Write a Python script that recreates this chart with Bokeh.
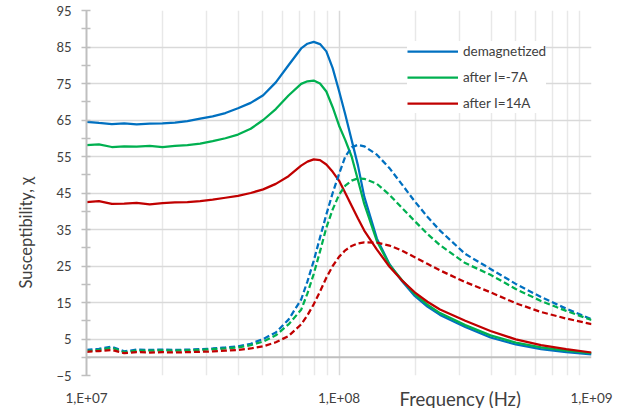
import math
from bokeh.plotting import figure
from bokeh.models import (FixedTicker, Span, Title, Legend, LegendItem, ColumnDataSource)
from bokeh.embed import file_html
from bokeh.resources import INLINE

# Frequency in MHz
freq_mhz = [10, 11.2, 12.6, 14.1, 15.8, 17.8, 20.0, 22.4, 25.1, 28.2,
            31.6, 35.5, 39.8, 44.7, 50.1, 56.2, 63.1, 70.8, 75.0, 79.4,
            84.1, 89.1, 94.4, 100, 105.9, 112.2, 118.9, 125.9, 141.3, 158.5,
            177.8, 199.5, 223.9, 251.2, 316.2, 398.1, 501.2, 631.0, 794.3, 1000]

# Real part (solid lines)
demag_re = [64.5, 64.2, 63.9, 64.1, 63.8, 64.0, 64.1, 64.3, 64.7, 65.4,
            66.0, 66.9, 68.2, 69.7, 71.8, 75.3, 80.0, 84.6, 85.9, 86.4,
            85.8, 83.8, 79.2, 73.0, 66.5, 59.5, 52.5, 44.0, 32.5, 25.5,
            20.8, 16.8, 13.9, 11.6, 8.3, 5.4, 3.5, 2.2, 1.4, 0.8]
i7_re = [58.1, 58.3, 57.6, 57.8, 57.7, 57.9, 57.6, 57.9, 58.1, 58.5,
         59.2, 60.0, 61.0, 62.6, 65.0, 68.0, 71.7, 74.9, 75.6, 75.8,
         75.0, 72.8, 68.5, 63.5, 59.5, 55.0, 48.5, 42.0, 31.8, 25.3,
         21.1, 17.3, 14.4, 12.1, 8.8, 6.0, 4.0, 2.7, 1.8, 1.1]
i14_re = [42.5, 42.8, 42.0, 42.1, 42.3, 41.9, 42.2, 42.4, 42.5, 42.8,
          43.2, 43.7, 44.2, 45.0, 46.0, 47.5, 49.6, 52.5, 53.6, 54.2,
          54.0, 52.8, 50.8, 48.4, 45.0, 41.5, 38.0, 34.7, 29.5, 24.8,
          21.0, 17.8, 15.2, 13.1, 10.0, 7.2, 4.9, 3.3, 2.2, 1.3]

# Imaginary part (dashed lines)
demag_im = [2.0, 2.3, 2.9, 1.6, 2.1, 2.0, 2.1, 2.0, 2.1, 2.2,
            2.4, 2.7, 3.0, 3.7, 5.0, 6.8, 10.3, 15.8, 20.8, 26.4,
            32.8, 39.1, 45.0, 50.2, 55.0, 57.5, 58.2, 57.8, 55.5, 51.8,
            47.3, 42.7, 38.5, 34.7, 28.3, 24.2, 20.1, 16.5, 13.3, 10.4]
i7_im = [1.7, 2.0, 2.6, 1.4, 1.8, 1.8, 1.9, 1.8, 1.9, 2.0,
         2.2, 2.4, 2.7, 3.3, 4.3, 6.0, 9.0, 13.0, 17.5, 22.8,
         29.0, 35.5, 40.5, 44.5, 47.0, 48.4, 49.0, 48.9, 47.5, 44.5,
         40.9, 37.3, 33.8, 30.7, 25.8, 22.6, 18.7, 15.4, 12.7, 10.2]
i14_im = [1.5, 1.7, 2.0, 1.1, 1.4, 1.3, 1.4, 1.3, 1.4, 1.5,
          1.6, 1.8, 2.0, 2.4, 3.0, 4.1, 5.8, 9.0, 11.5, 14.5,
          18.0, 21.8, 25.0, 27.5, 29.3, 30.5, 31.2, 31.5, 31.4, 30.6,
          29.2, 27.4, 25.6, 23.8, 20.6, 17.8, 14.8, 12.4, 10.6, 9.1]

series_names = ["demagnetized", "after I=-7A", "after I=14A"]
series_colors = ["#0070C0", "#00B050", "#C00000"]

y_major = [-5, 5, 15, 25, 35, 45, 55, 65, 75, 85, 95]
y_minor = [0, 10, 20, 30, 40, 50, 60, 70, 80, 90]
x_major = [1e7, 1e8, 1e9]
x_minor = [2e7, 3e7, 4e7, 5e7, 6e7, 7e7, 8e7, 9e7,
           2e8, 3e8, 4e8, 5e8, 6e8, 7e8, 8e8, 9e8]
x_labels = ["1,E+07", "1,E+08", "1,E+09"]
x_title = "Frequency (Hz)"
y_title = "Susceptibility, χ"

FONT = "Lato"
TXT = "#404040"
GRID = "#d9d9d9"

freq_hz = [f * 1e6 for f in freq_mhz]
src = ColumnDataSource(dict(f=freq_hz, d_re=demag_re, a_re=i7_re, b_re=i14_re,
                            d_im=demag_im, a_im=i7_im, b_im=i14_im))

p = figure(width=618, height=408, x_axis_type="log",
           x_range=(1e7, 1e9), y_range=(-5, 95),
           output_backend="svg", toolbar_location=None,
           min_border_left=85, min_border_right=27,
           min_border_top=10, min_border_bottom=30)
p.outline_line_color = None
p.background_fill_color = "white"
p.border_fill_color = "white"

p.xaxis.ticker = FixedTicker(ticks=x_major, minor_ticks=x_minor)
p.xaxis.major_label_overrides = {t: l for t, l in zip(x_major, x_labels)}
p.xaxis.axis_line_color = None
p.xaxis.major_tick_line_color = None
p.xaxis.minor_tick_line_color = None
p.xaxis.major_tick_out = 0
p.xaxis.major_tick_in = 0
p.xaxis.major_label_standoff = 10
p.xaxis.major_label_text_font = FONT
p.xaxis.major_label_text_font_size = "13.5px"
p.xaxis.major_label_text_color = TXT

p.yaxis.ticker = FixedTicker(ticks=y_major, minor_ticks=y_minor)
p.yaxis.axis_line_color = "#bfbfbf"
p.yaxis.axis_line_width = 2
p.yaxis.major_tick_line_color = "#bfbfbf"
p.yaxis.minor_tick_line_color = "#bfbfbf"
p.yaxis.major_tick_line_width = 1.5
p.yaxis.minor_tick_line_width = 1.5
p.yaxis.major_tick_in = 4
p.yaxis.major_tick_out = 5
p.yaxis.minor_tick_in = 4
p.yaxis.minor_tick_out = 5
p.yaxis.major_label_standoff = 10
p.yaxis.major_label_text_font = FONT
p.yaxis.major_label_text_font_size = "13px"
p.yaxis.major_label_text_color = TXT

p.xgrid.grid_line_color = GRID
p.xgrid.grid_line_width = 1.5
p.xgrid.minor_grid_line_color = "#e8e8e8"
p.xgrid.minor_grid_line_width = 1.5
p.ygrid.grid_line_color = GRID
p.ygrid.grid_line_width = 1.5

zero = Span(location=0, dimension="width", line_color="#bfbfbf", line_width=2, level="underlay")
p.add_layout(zero)

re_cols = ["d_re", "a_re", "b_re"]
im_cols = ["d_im", "a_im", "b_im"]
items = []
for name, col, rc in zip(series_names, series_colors, re_cols):
    r = p.line("f", rc, source=src, line_color=col, line_width=2.25)
    items.append(LegendItem(label=name, renderers=[r]))
for col, ic in zip(series_colors, im_cols):
    p.line("f", ic, source=src, line_color=col, line_width=2.25, line_dash="6 3")

legend = Legend(items=items, location=(321, 262))
legend.background_fill_color = "white"
legend.background_fill_alpha = 1
legend.border_line_color = None
legend.label_text_font = FONT
legend.label_text_font_size = "13.5px"
legend.label_text_color = TXT
legend.glyph_width = 51
legend.glyph_height = 20
legend.label_height = 20
legend.label_standoff = 5
legend.spacing = 6
legend.padding = 6
legend.margin = 0
p.add_layout(legend)

# y axis title in the left panel
p.add_layout(Title(text=y_title, align="left", offset=87, vertical_align="top",
                   standoff=31, text_font=FONT, text_font_size="16.5px",
                   text_font_style="normal", text_color=TXT), "left")

# x axis title on the same row as the tick labels (pulled up with a negative standoff)
p.add_layout(Title(text=x_title, align="left", offset=313, vertical_align="top",
                   standoff=-42, text_font=FONT, text_font_size="18.5px",
                   text_font_style="normal", text_color=TXT), "below")

open("out.html", "w").write(file_html(p, INLINE))
